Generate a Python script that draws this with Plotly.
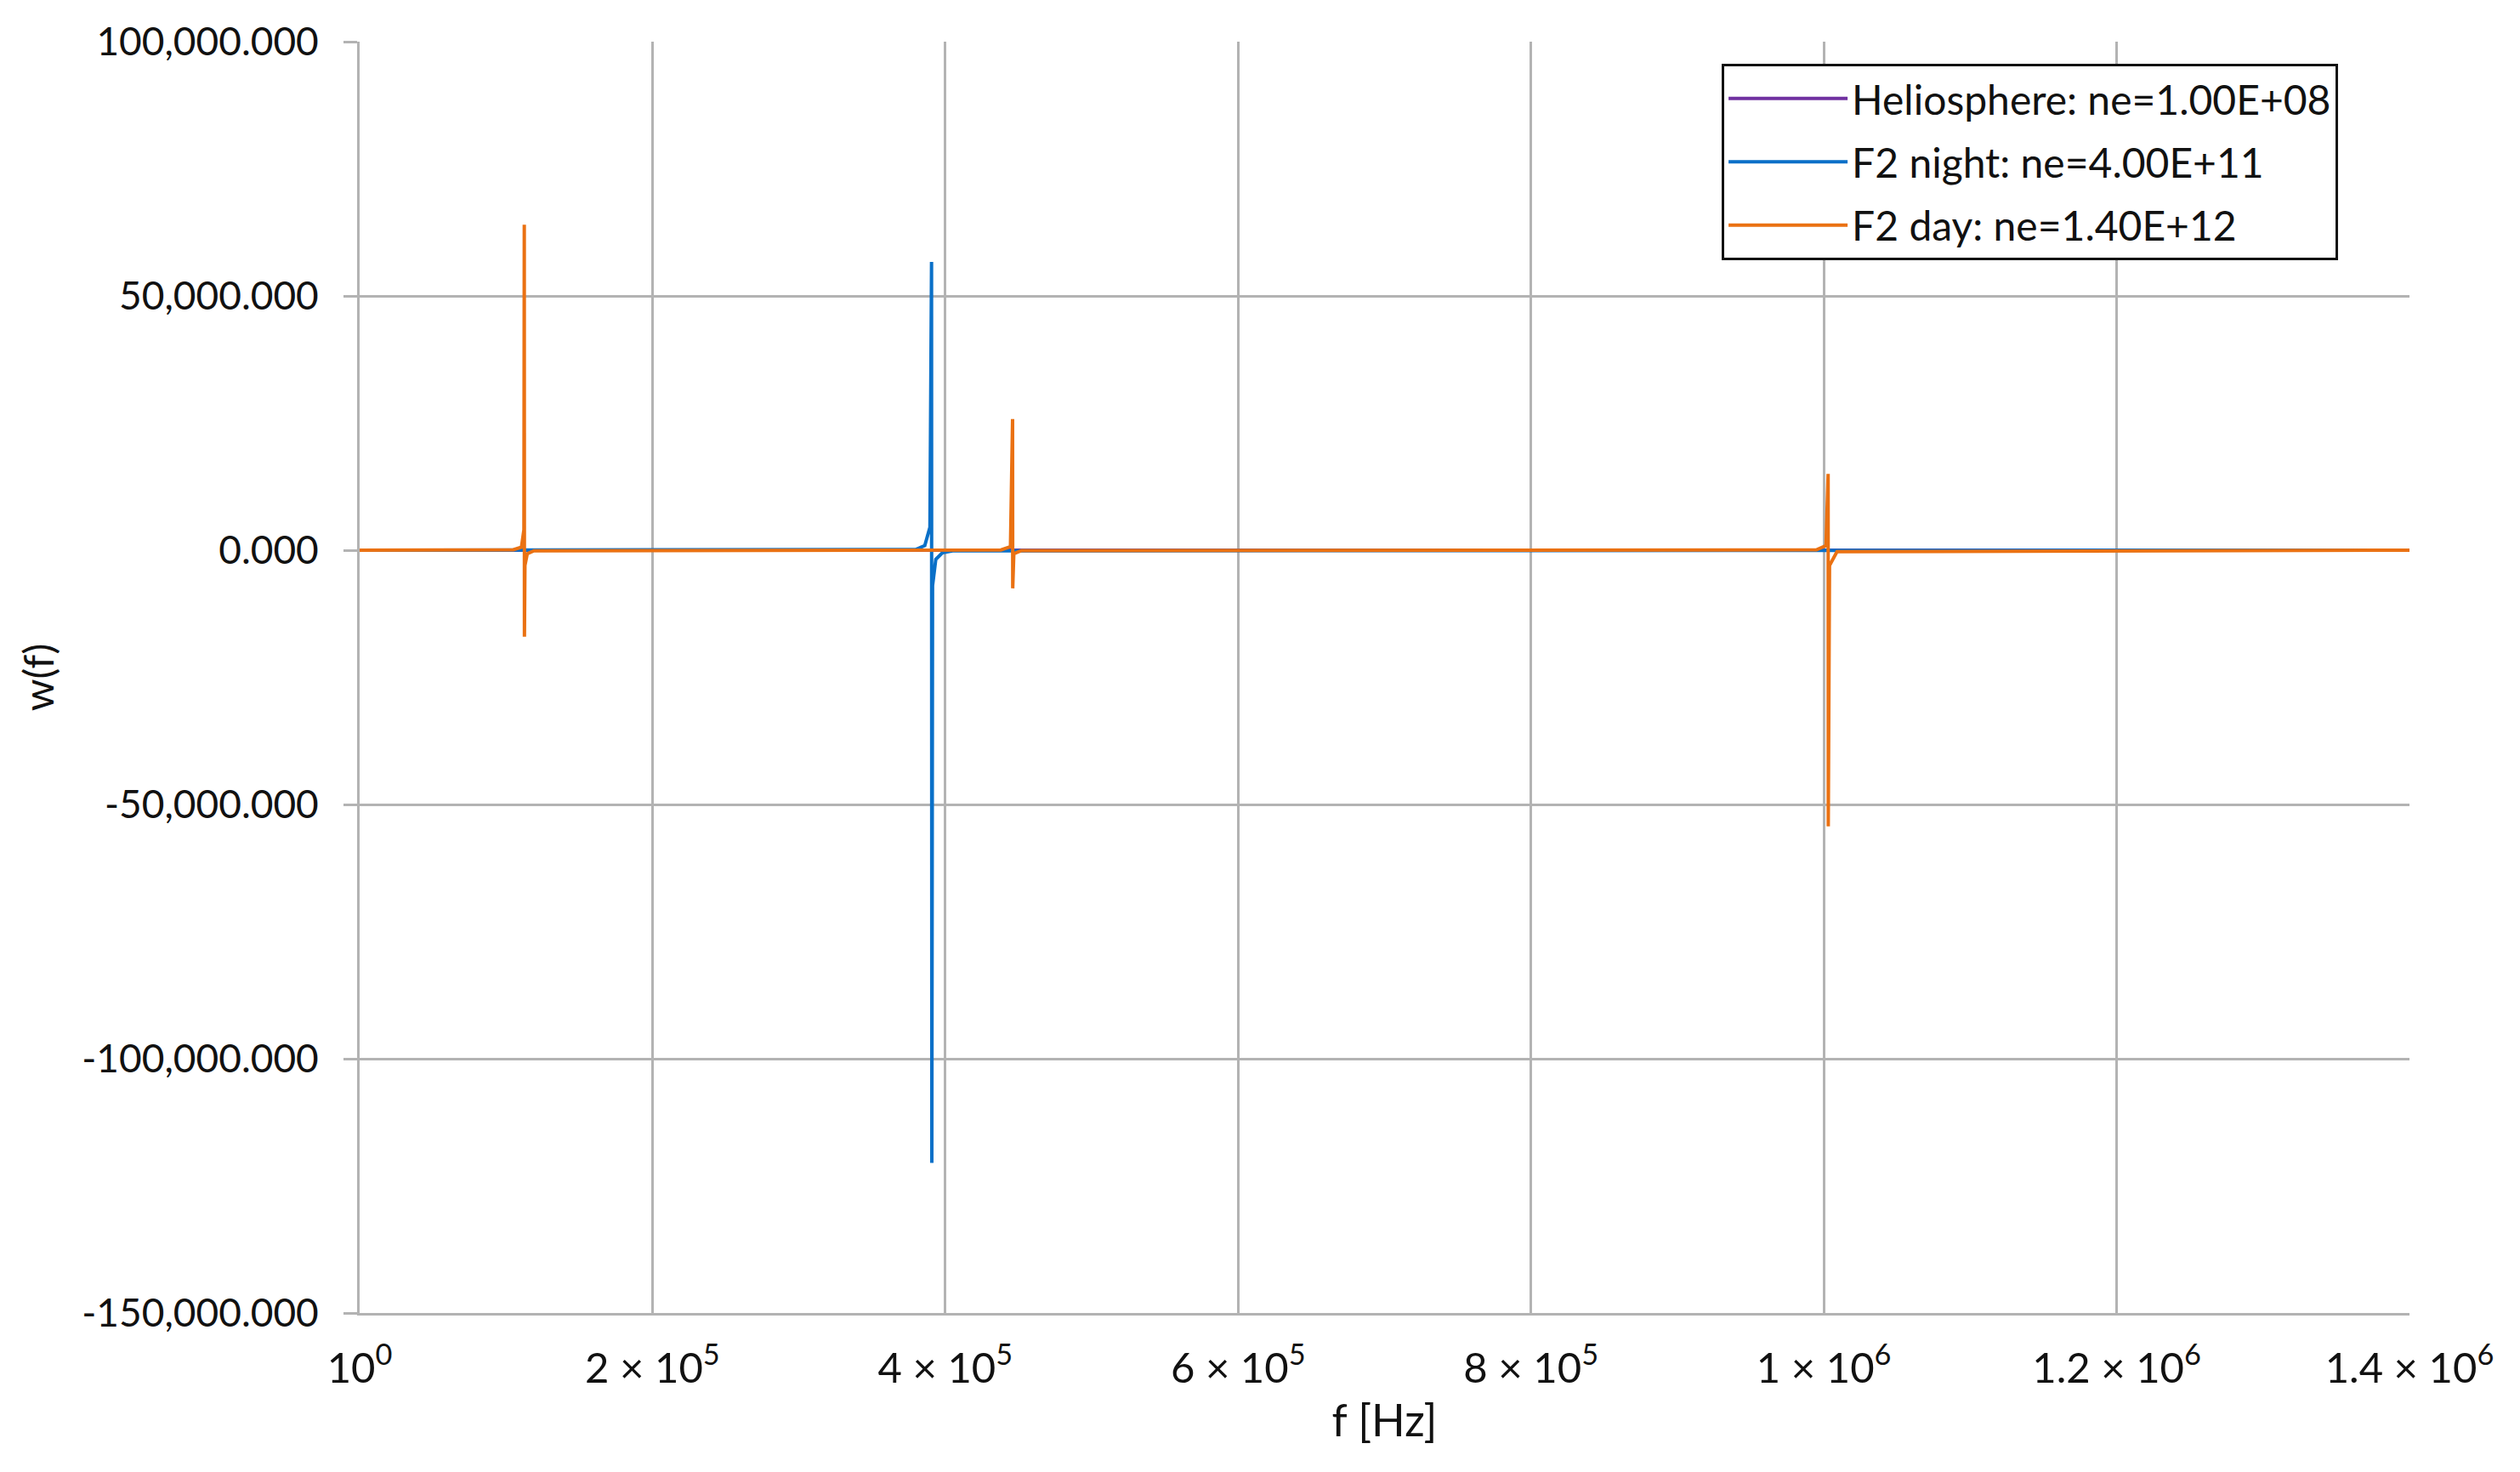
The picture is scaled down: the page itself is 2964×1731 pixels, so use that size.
import plotly.graph_objects as go

# ---- data ----
helio_f = [1, 1400000]
helio_w = [0, 0]

night_f = [1, 380000, 386000, 389500, 390600, 390800, 391300, 393500, 398000, 405000, 1400000]
night_w = [0, 150, 900, 4500, 56700, -120500, -7000, -1800, -500, -120, 0]

day_f = [1, 105000, 110500, 112200, 112450, 112550, 112900, 114500, 119000,
         438000, 444500, 445950, 446050, 446800, 452000,
         995000, 1001500, 1002950, 1003050, 1003900, 1009000, 1400000]
day_w = [0, 80, 600, 4000, 64000, -17000, -3000, -700, -120,
         60, 700, 25800, -7500, -700, -80,
         80, 900, 15000, -54300, -3000, -300, 0]

series_names = ["Heliosphere: ne=1.00E+08", "F2 night: ne=4.00E+11", "F2 day: ne=1.40E+12"]
series_colors = ["#7030A0", "#0A70C8", "#EA7112"]

x_tickvals = [1, 200000, 400000, 600000, 800000, 1000000, 1200000, 1400000]
x_ticktext = ["10<sup>0</sup>", "2 × 10<sup>5</sup>", "4 × 10<sup>5</sup>", "6 × 10<sup>5</sup>",
              "8 × 10<sup>5</sup>", "1 × 10<sup>6</sup>", "1.2 × 10<sup>6</sup>", "1.4 × 10<sup>6</sup>"]
y_tickvals = [100000, 50000, 0, -50000, -100000, -150000]
y_ticktext = ["100,000.000", "50,000.000", "0.000", "-50,000.000", "-100,000.000", "-150,000.000"]

FONT = "Lato"
grid = "#B3B3B3"
TXT = "#111111"

fig = go.Figure()
for name, fx, wy, col in zip(series_names, [helio_f, night_f, day_f],
                             [helio_w, night_w, day_w], series_colors):
    fig.add_trace(go.Scatter(x=fx, y=wy, mode="lines", name=name, legendgroup=name,
                             line=dict(color=col, width=4)))

fig.update_layout(
    width=2964, height=1731,
    paper_bgcolor="white", plot_bgcolor="white",
    margin=dict(l=415, r=138, t=36, b=195),
    font=dict(family=FONT, size=46, color=TXT),
    showlegend=True,
    legend=dict(x=0.6645, y=0.9825, xanchor="left", yanchor="top",
                bgcolor="white", bordercolor=TXT, borderwidth=3,
                font=dict(family=FONT, size=48, color=TXT),
                tracegroupgap=9, itemwidth=140),
    xaxis=dict(range=[1, 1400000], tickvals=x_tickvals, ticktext=x_ticktext,
               showgrid=True, gridcolor=grid, gridwidth=2.5,
               showline=True, linecolor=grid, linewidth=3,
               ticks="", zeroline=False, ticklabelstandoff=20,
               tickfont=dict(family=FONT, size=49, color=TXT),
               title=dict(text="f [Hz]", standoff=18,
                          font=dict(family=FONT, size=52, color=TXT))),
    yaxis=dict(range=[-150000, 100000], tickvals=y_tickvals, ticktext=y_ticktext,
               showgrid=True, gridcolor=grid, gridwidth=2.5,
               showline=True, linecolor=grid, linewidth=3,
               ticks="outside", ticklen=16, tickcolor=grid, tickwidth=2.5,
               zeroline=False, ticklabelstandoff=20,
               title=dict(text="w(f)", standoff=18,
                          font=dict(family=FONT, size=48, color=TXT))),
)

fig.write_html("out.html")
